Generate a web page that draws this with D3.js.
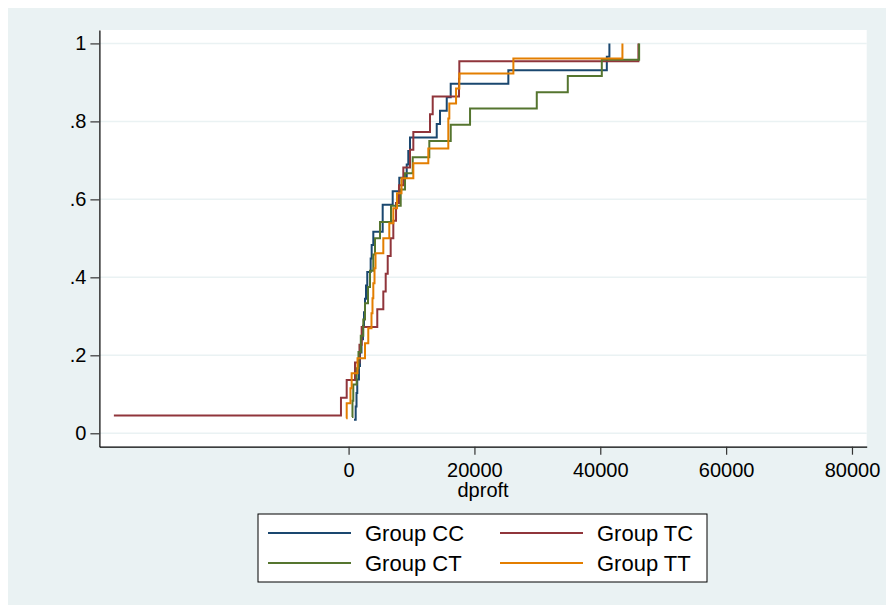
<!DOCTYPE html>
<html><head><meta charset="utf-8">
<script src="https://cdn.jsdelivr.net/npm/d3@7/dist/d3.min.js"></script>
<style>body{margin:0;background:#fff}svg{display:block}</style>
</head><body>
<svg id="chart" width="886" height="605"></svg>
<script>
// ---- data ----
const groups = ["Group CC", "Group TC", "Group CT", "Group TT"];
const colors = ["#1a476f", "#90353b", "#55752f", "#e37e00"];
const ccValues = [860,1130,1260,1380,1650,1810,2050,2290,2450,2610,2770,2970,3510,3670,3930,5420,5420,7010,8060,9240,9490,9760,14010,14530,15600,16230,25390,41040,41450];
const tcValues = [-37300,-1210,-300,1020,1730,2080,4560,5520,5900,6220,6690,7110,7540,8010,8700,9760,10290,12940,13370,17550,17600,46060];
const ctValues = [541,620,747,1288,1574,1940,2337,2608,3085,3403,3927,4198,4993,6742,8284,8968,10192,12831,16234,19303,29908,34837,40243,46174];
const ttValues = [-380,-300,300,490,1420,2610,3130,3640,3800,3930,4120,4280,5520,6470,7110,7700,8410,10290,12670,15850,15850,16010,17080,17600,26190,43520];
const xTicks = [0, 20000, 40000, 60000, 80000];
const yTicks = [0, 0.2, 0.4, 0.6, 0.8, 1];
const yTickLabels = ["0", ".2", ".4", ".6", ".8", "1"];
const xTitle = "dproft";

const seriesValues = [ccValues, tcValues, ctValues, ttValues];

// ---- layout ----
const W = 886, H = 605;
const plot = {left: 99.4, right: 866.7, top: 30, bottom: 446.7};
const font = "'Liberation Sans', Arial, Helvetica, sans-serif";

const svg = d3.select("#chart");
svg.append("rect").attr("x", 8).attr("y", 8).attr("width", W - 8).attr("height", H - 8).attr("fill", "#eaf2f3");
svg.append("rect").attr("x", plot.left).attr("y", plot.top)
  .attr("width", plot.right - plot.left).attr("height", plot.bottom - plot.top).attr("fill", "#ffffff");

const x = d3.scaleLinear().domain([-39600, 82340]).range([plot.left, plot.right]);
const y = d3.scaleLinear().domain([-0.0344, 1.0344]).range([plot.bottom, plot.top]);

// gridlines
svg.append("g").selectAll("line").data(yTicks).join("line")
  .attr("x1", plot.left).attr("x2", plot.right)
  .attr("y1", d => y(d)).attr("y2", d => y(d))
  .attr("stroke", "#eaf2f3").attr("stroke-width", 1.5);

// series (ECDF as step functions)
const line = d3.line().x(d => x(d[0])).y(d => y(d[1])).curve(d3.curveStepAfter);
seriesValues.forEach((vals, i) => {
  const n = vals.length;
  const pts = vals.map((v, k) => [v, (k + 1) / n]);
  svg.append("path").datum(pts)
    .attr("d", line).attr("fill", "none")
    .attr("stroke", colors[i]).attr("stroke-width", 2)
    .attr("stroke-linejoin", "miter");
});

// axes
const yAxis = svg.append("g").attr("transform", `translate(${plot.left},0)`)
  .call(d3.axisLeft(y).tickValues(yTicks).tickFormat((d, i) => yTickLabels[i]).tickSize(9).tickSizeOuter(0).tickPadding(4));
const xAxis = svg.append("g").attr("transform", `translate(0,${plot.bottom})`)
  .call(d3.axisBottom(x).tickValues(xTicks).tickFormat(d3.format("d")).tickSize(8).tickSizeOuter(0).tickPadding(8));
[yAxis, xAxis].forEach(g => {
  g.select(".domain").attr("stroke", "#000").attr("stroke-width", 1.2);
  g.selectAll(".tick line").attr("stroke", "#333").attr("stroke-width", 1.2);
  g.selectAll(".tick text").attr("fill", "#000").style("font-family", font).style("font-size", "20px");
});

svg.append("text").attr("x", (plot.left + plot.right) / 2).attr("y", 497)
  .attr("text-anchor", "middle").style("font-family", font).style("font-size", "20px").text(xTitle);

// legend
const lg = svg.append("g");
lg.append("rect").attr("x", 258).attr("y", 514).attr("width", 449).attr("height", 68)
  .attr("fill", "#fff").attr("stroke", "#000").attr("stroke-width", 1);
const legendPos = [[268, 533], [500, 533], [268, 563], [500, 563]];
groups.forEach((g, i) => {
  const [lx, ly] = legendPos[i];
  lg.append("line").attr("x1", lx).attr("x2", lx + 83).attr("y1", ly).attr("y2", ly)
    .attr("stroke", colors[i]).attr("stroke-width", 2);
  lg.append("text").attr("x", lx + 97).attr("y", ly).attr("dy", "0.36em")
    .style("font-family", font).style("font-size", "22px").text(g);
});
</script>
</body></html>
